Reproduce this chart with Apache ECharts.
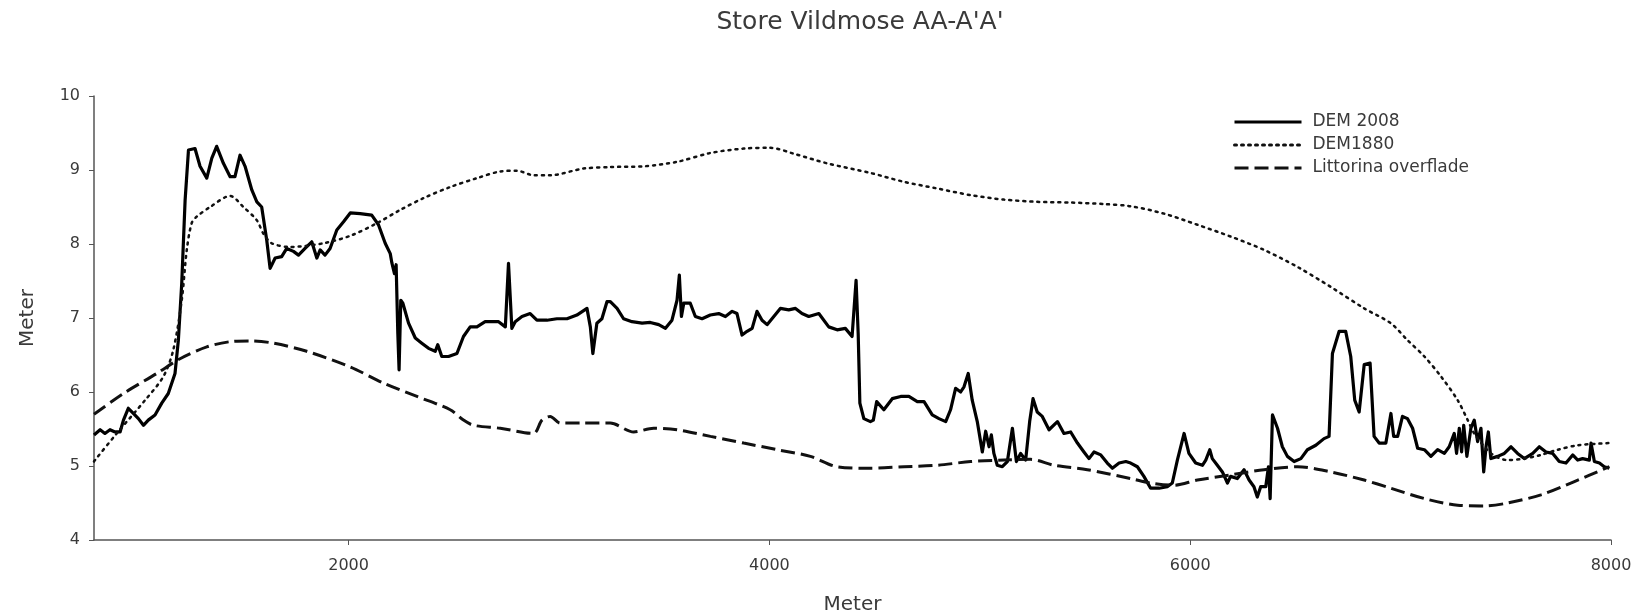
<!DOCTYPE html>
<html>
<head>
<meta charset="utf-8">
<script src="https://cdn.jsdelivr.net/npm/echarts@6/dist/echarts.min.js"></script>
<style>
html,body{margin:0;padding:0;background:#fff;}
#chart{width:1637px;height:613px;}
</style>
</head>
<body>
<div id="chart"></div>
<script>
const titleText = "Store Vildmose AA-A'A'";
const seriesNames = ["DEM 2008", "DEM1880", "Littorina overflade"];
const xTicks = [2000, 4000, 6000, 8000];

const dem2008X = [790,795,819,842,866,890,914,930,953,977,1001,1025,1048,1080,1112,1143,1175,1191,1207,1223,1239,1270,1294,1326,1350,1373,1405,1437,1460,1484,1508,1540,1564,1587,1611,1627,1651,1682,1706,1738,1762,1793,1825,1849,1865,1888,1912,1944,1976,2008,2055,2110,2142,2174,2198,2206,2218,2226,2234,2240,2248,2258,2285,2317,2348,2380,2412,2424,2443,2475,2515,2546,2578,2610,2649,2681,2713,2745,2760,2776,2792,2824,2863,2895,2943,2990,3038,3085,3133,3149,3161,3180,3204,3228,3244,3276,3307,3347,3395,3434,3474,3506,3537,3561,3572,3582,3593,3624,3648,3680,3719,3759,3791,3823,3846,3870,3894,3918,3941,3965,3989,4021,4052,4092,4124,4155,4187,4235,4282,4322,4361,4393,4412,4422,4430,4449,4480,4494,4510,4544,4584,4624,4663,4703,4735,4774,4806,4838,4861,4885,4909,4925,4945,4964,4988,5012,5028,5044,5055,5067,5083,5107,5131,5155,5174,5194,5218,5237,5253,5273,5297,5329,5369,5400,5432,5464,5495,5519,5543,5575,5606,5630,5662,5694,5717,5749,5780,5812,5852,5891,5915,5939,5971,5994,6026,6058,6074,6093,6105,6129,6153,6177,6192,6224,6256,6280,6303,6319,6335,6359,6372,6380,6391,6415,6438,6462,6494,6526,6557,6597,6636,6660,6676,6708,6739,6763,6782,6803,6827,6855,6874,6898,6930,6954,6967,6986,7009,7033,7057,7081,7113,7144,7176,7208,7231,7255,7266,7279,7290,7300,7315,7334,7350,7366,7382,7395,7406,7417,7429,7461,7493,7525,7556,7588,7628,7659,7691,7723,7754,7786,7818,7842,7865,7897,7905,7921,7945,7968,7992];
const dem2008Y = [5.42,5.40,5.49,5.44,5.49,5.46,5.46,5.62,5.78,5.71,5.64,5.55,5.62,5.69,5.85,5.98,6.25,6.70,7.47,8.59,9.27,9.29,9.05,8.89,9.16,9.32,9.09,8.91,8.91,9.20,9.05,8.73,8.57,8.50,8.05,7.67,7.81,7.83,7.94,7.90,7.85,7.94,8.03,7.81,7.92,7.85,7.94,8.19,8.30,8.42,8.41,8.39,8.26,8.01,7.87,7.74,7.60,7.72,6.79,6.30,7.24,7.20,6.93,6.73,6.66,6.59,6.55,6.64,6.48,6.48,6.52,6.75,6.88,6.88,6.95,6.95,6.95,6.88,7.74,6.86,6.95,7.02,7.06,6.97,6.97,6.99,6.99,7.04,7.13,6.88,6.52,6.93,6.99,7.22,7.22,7.13,6.99,6.95,6.93,6.94,6.91,6.86,6.97,7.24,7.58,7.02,7.20,7.20,7.02,6.99,7.04,7.06,7.02,7.09,7.06,6.77,6.82,6.86,7.09,6.97,6.91,7.02,7.13,7.11,7.13,7.06,7.02,7.06,6.88,6.84,6.86,6.75,7.51,6.79,5.85,5.64,5.60,5.62,5.87,5.76,5.91,5.94,5.94,5.87,5.87,5.69,5.64,5.60,5.76,6.05,6.00,6.07,6.25,5.89,5.60,5.19,5.47,5.26,5.42,5.17,5.01,4.99,5.06,5.51,5.06,5.17,5.08,5.60,5.91,5.73,5.67,5.49,5.60,5.44,5.46,5.31,5.19,5.10,5.19,5.15,5.04,4.97,5.04,5.06,5.04,4.99,4.86,4.70,4.70,4.72,4.77,5.08,5.44,5.17,5.04,5.01,5.08,5.22,5.10,5.01,4.92,4.77,4.86,4.83,4.95,4.81,4.72,4.58,4.72,4.72,4.99,4.56,5.69,5.51,5.26,5.13,5.06,5.10,5.22,5.28,5.37,5.40,6.52,6.82,6.82,6.48,5.89,5.73,6.37,6.39,5.40,5.31,5.31,5.71,5.40,5.40,5.67,5.64,5.51,5.24,5.22,5.13,5.22,5.17,5.26,5.44,5.17,5.51,5.19,5.55,5.13,5.51,5.62,5.33,5.51,4.92,5.26,5.46,5.10,5.13,5.17,5.26,5.17,5.10,5.17,5.26,5.19,5.17,5.06,5.04,5.15,5.08,5.10,5.08,5.31,5.06,5.04,4.99,4.97];

const dem1880X = [790,795,898,1033,1120,1167,1207,1231,1254,1278,1342,1437,1500,1564,1595,1635,1722,1881,2007,2134,2245,2356,2483,2610,2721,2800,2879,2958,3117,3244,3403,3561,3720,3878,4005,4116,4274,4480,4640,4798,4957,5115,5273,5432,5591,5717,5876,6034,6193,6351,6510,6668,6827,6953,7033,7113,7192,7271,7319,7350,7430,7509,7588,7667,7747,7842,7992];
const dem1880Y = [5.06,5.08,5.44,5.89,6.21,6.57,7.24,7.92,8.28,8.37,8.50,8.65,8.50,8.32,8.14,8.01,7.96,8.01,8.11,8.28,8.46,8.62,8.77,8.89,8.98,8.99,8.93,8.93,9.02,9.04,9.05,9.11,9.23,9.29,9.30,9.22,9.09,8.96,8.84,8.75,8.66,8.60,8.57,8.56,8.54,8.51,8.41,8.26,8.10,7.92,7.69,7.42,7.13,6.93,6.70,6.48,6.21,5.89,5.62,5.44,5.17,5.08,5.10,5.15,5.22,5.28,5.31];

const littX = [790,795,930,1088,1199,1326,1437,1532,1643,1801,2007,2166,2325,2483,2546,2594,2721,2879,2919,2958,3006,3117,3244,3355,3450,3561,3720,3878,4037,4195,4322,4480,4640,4798,4957,5115,5242,5353,5511,5717,5812,5923,6034,6193,6351,6510,6668,6827,6953,7113,7271,7398,7509,7667,7826,7992];
const littY = [5.70,5.71,5.98,6.25,6.45,6.61,6.68,6.69,6.66,6.55,6.34,6.12,5.94,5.76,5.62,5.55,5.51,5.44,5.62,5.67,5.58,5.58,5.58,5.46,5.51,5.49,5.40,5.31,5.22,5.13,4.99,4.97,4.99,5.01,5.06,5.08,5.09,5.01,4.95,4.83,4.77,4.74,4.81,4.88,4.95,4.99,4.92,4.81,4.70,4.56,4.47,4.46,4.50,4.61,4.79,4.99];

function zip(xs, ys){ return xs.map((x,i)=>[x, ys[i]]); }

const FONT = "'DejaVu Sans', 'Liberation Sans', Arial, sans-serif";
const TXT = '#3a3a3a';
const chart = echarts.init(document.getElementById('chart'), null, {renderer:'canvas'});
chart.setOption({
  animation: false,
  backgroundColor: '#fff',
  title: {
    text: titleText, left: 855, top: 5, textAlign: 'center',
    textStyle: {fontFamily: FONT, fontSize: 25, fontWeight: 'normal', color: TXT}
  },
  legend: {
    orient: 'vertical', left: 1228, top: 108,
    itemWidth: 67, itemHeight: 14, itemGap: 5,
    itemStyle: {opacity: 0, borderWidth: 0},
    lineStyle: {width: 3},
    textStyle: {fontFamily: FONT, fontSize: 17, color: TXT, lineHeight: 18, padding: [0,0,0,6]},
    data: seriesNames
  },
  grid: {left: 94, right: 26, top: 96, bottom: 73, containLabel: false, outerBoundsMode: 'none'},
  xAxis: {
    type: 'value', min: 790, max: 8000,
    name: 'Meter', nameLocation: 'middle', nameGap: 55,
    nameTextStyle: {fontFamily: FONT, fontSize: 20, color: TXT},
    axisLine: {show: true, lineStyle: {color: '#555', width: 1.5}},
    axisTick: {show: true, length: 5, customValues: xTicks, lineStyle:{color:'#555'}},
    axisLabel: {customValues: xTicks, margin: 18, fontFamily: FONT, fontSize: 16, color: TXT,
      formatter: v => String(v)},
    splitLine: {show: false}
  },
  yAxis: {
    type: 'value', min: 4, max: 10, interval: 1,
    name: 'Meter', nameLocation: 'middle', nameGap: 56, nameRotate: 90,
    nameTextStyle: {fontFamily: FONT, fontSize: 20, color: TXT},
    axisLine: {show: true, lineStyle: {color: '#555', width: 1.5}},
    axisTick: {show: true, length: 5, lineStyle:{color:'#555'}},
    axisLabel: {margin: 14, fontFamily: FONT, fontSize: 16, color: TXT},
    splitLine: {show: false}
  },
  series: [
    {name: seriesNames[0], type: 'line', data: zip(dem2008X, dem2008Y), symbol: 'none', smooth: false,
     lineStyle: {color: '#000', width: 3.2, type: 'solid', join: 'round'}, itemStyle: {color: '#000'}},
    {name: seriesNames[1], type: 'line', data: zip(dem1880X, dem1880Y), symbol: 'none', smooth: 0.3,
     lineStyle: {color: '#111', width: 2.5, type: [2, 5], cap: 'round'}, itemStyle: {color: '#111'}},
    {name: seriesNames[2], type: 'line', data: zip(littX, littY), symbol: 'none', smooth: 0.3,
     lineStyle: {color: '#111', width: 3, type: [14, 6]}, itemStyle: {color: '#111'}}
  ]
});
</script>
</body>
</html>
